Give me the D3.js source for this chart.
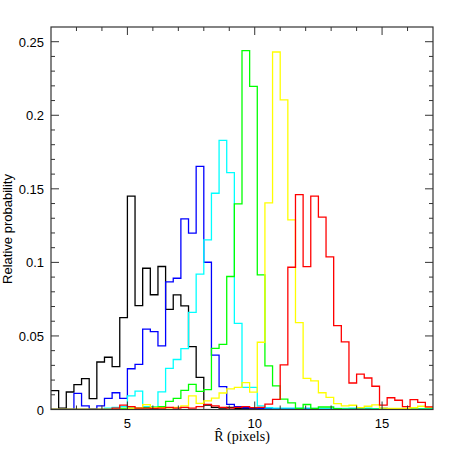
<!DOCTYPE html>
<html>
<head>
<meta charset="utf-8">
<script src="https://cdn.jsdelivr.net/npm/d3@7"></script>
<style>
  body { margin: 0; background: #fff; }
  svg { display: block; }
  .tick-label { font-family: "Liberation Sans", Helvetica, Arial, sans-serif; font-size: 13px; fill: #000; }
</style>
</head>
<body>
<svg id="chart" width="463" height="458"></svg>
<script>
// histogram bins: 50 bins of width 0.3 from R = 2 to 17
var binStart = 2, binWidth = 0.3;

var blackVals = [0.0128, 0.001, 0.0119, 0.0169, 0.021, 0.0074, 0.0323, 0.0355, 0.0291, 0.0625,
  0.145, 0.0706, 0.096, 0.078, 0.0972, 0.068, 0.0779, 0.0704, 0.0427, 0.0219,
  0.003, 0.0015, 0.001, 0.0015, 0.0008, 0.0008, 0.0008, 0.0008, 0.0005, 0.0005,
  0.0005, 0.0005, 0.0005, 0.0005, 0.0005, 0.0005, 0, 0, 0, 0,
  0, 0, 0, 0, 0, 0, 0, 0, 0, 0];

var blueVals = [0, 0, 0, 0.011, 0.0024, 0.0003, 0.0024, 0.0076, 0.0114, 0.0076,
  0.0277, 0.0307, 0.0547, 0.053, 0.0432, 0.0868, 0.0892, 0.1296, 0.1199, 0.1652,
  0.1001, 0.037, 0.0156, 0.0035, 0.0019, 0.0012, 0.001, 0.0008, 0.0005, 0.0005,
  0.0005, 0.0005, 0.0005, 0.0005, 0.0005, 0.0005, 0.0005, 0.0005, 0.0005, 0.0005,
  0.0005, 0.0005, 0.0005, 0.0008, 0, 0, 0, 0, 0, 0];

var cyanVals = [0, 0, 0, 0, 0, 0, 0, 0.001, 0.0015, 0.002,
  0.0093, 0.0125, 0.002, 0.002, 0.012, 0.028, 0.034, 0.0414, 0.066, 0.092,
  0.1153, 0.147, 0.1829, 0.161, 0.0586, 0.015, 0.015, 0.0024, 0.0012, 0.001,
  0.001, 0.001, 0.001, 0.001, 0.0008, 0.0008, 0.0008, 0.0008, 0.0008, 0.001,
  0.0012, 0.001, 0.0005, 0.0005, 0.0005, 0.0005, 0.0005, 0.0005, 0.0005, 0.0005];

var greenVals = [0, 0, 0, 0, 0, 0, 0, 0, 0, 0.0008,
  0.001, 0.001, 0.0012, 0.0015, 0.002, 0.0055, 0.0076, 0.013, 0.0171, 0.0123,
  0.0135, 0.0416, 0.0443, 0.0904, 0.1398, 0.2439, 0.2196, 0.0915, 0.0297, 0.016,
  0.007, 0.0045, 0.0008, 0.0034, 0.0008, 0.0017, 0.0017, 0.0005, 0.0003, 0.0003,
  0.0003, 0.0003, 0.0003, 0.0003, 0.0003, 0.0003, 0.0003, 0.0003, 0.0003, 0.0003];

var yellowVals = [0, 0, 0, 0, 0, 0, 0, 0, 0, 0,
  0.0008, 0.001, 0.0033, 0.0015, 0.0012, 0.0012, 0.0015, 0.0025, 0.0093, 0.0042,
  0.0058, 0.0078, 0.0112, 0.014, 0.015, 0.0183, 0.0118, 0.0457, 0.1405, 0.243,
  0.2105, 0.1289, 0.059, 0.0212, 0.0195, 0.0114, 0.0083, 0.004, 0.0024, 0.0029,
  0.0013, 0.0022, 0.0032, 0.001, 0.0008, 0.0008, 0.0008, 0.0012, 0.0022, 0.0015];

var redVals = [0, 0, 0, 0, 0, 0, 0, 0, 0.001, 0.003,
  0.002, 0.001, 0.001, 0.0008, 0.001, 0.0015, 0.001, 0.0015, 0.001, 0.002,
  0.0035, 0.0025, 0.0015, 0.001, 0.0015, 0.002, 0.0013, 0.0015, 0.0037, 0.0069,
  0.0303, 0.0967, 0.1461, 0.0971, 0.145, 0.1307, 0.1037, 0.057, 0.046, 0.018,
  0.024, 0.0214, 0.0158, 0.003, 0.008, 0.0063, 0.002, 0.0067, 0.0049, 0.0018];

var seriesList = [
  { name: "black", color: "#000000", values: blackVals },
  { name: "blue", color: "#0000ff", values: blueVals },
  { name: "cyan", color: "#00ffff", values: cyanVals },
  { name: "green", color: "#00ff00", values: greenVals },
  { name: "yellow", color: "#ffff00", values: yellowVals },
  { name: "red", color: "#ff0000", values: redVals }
];

var xMajorTicks = [5, 10, 15];
var yMajorTicks = [0, 0.05, 0.1, 0.15, 0.2, 0.25];
var yTickLabels = ["0", "0.05", "0.1", "0.15", "0.2", "0.25"];

var margin = { left: 51, right: 30, top: 27, bottom: 48.5 };
var width = 463 - margin.left - margin.right,
    height = 458 - margin.top - margin.bottom;

var xScale = d3.scaleLinear().domain([2, 17]).range([0, width]);
var yScale = d3.scaleLinear().domain([0, 0.26]).range([height, 0]);

var svg = d3.select("#chart");
var g = svg.append("g").attr("transform", "translate(" + margin.left + "," + margin.top + ")");

g.append("defs").append("clipPath")
    .attr("id", "clip")
    .append("rect")
    .attr("width", width)
    .attr("height", height);

// step outline for a histogram
function stepPoints(values) {
    var pts = [];
    values.forEach(function (v, i) {
        var lo = binStart + i * binWidth;
        pts.push([lo, v]);
        pts.push([lo + binWidth, v]);
    });
    return pts;
}

var line = d3.line()
    .x(function (d) { return xScale(d[0]); })
    .y(function (d) { return yScale(d[1]); });

var plot = g.append("g").attr("clip-path", "url(#clip)");

seriesList.forEach(function (s) {
    plot.append("path")
        .attr("class", "hist " + s.name)
        .attr("d", line(stepPoints(s.values)))
        .attr("fill", "none")
        .attr("stroke", s.color)
        .attr("stroke-width", 1.3)
        .attr("stroke-linejoin", "miter");
});

// frame with inward ticks (all four sides)
var frameColor = "#333";
var xMinor = d3.range(3, 17, 1);
var yMinor = d3.range(0.01, 0.26, 0.01);

function tickLine(x1, y1, x2, y2) {
    g.append("line")
        .attr("x1", x1).attr("y1", y1).attr("x2", x2).attr("y2", y2)
        .attr("stroke", frameColor).attr("stroke-width", 1);
}

xMinor.forEach(function (t) {
    var major = xMajorTicks.indexOf(t) >= 0;
    var len = major ? 8 : 4;
    tickLine(xScale(t), height, xScale(t), height - len);
    tickLine(xScale(t), 0, xScale(t), len);
});

yMinor.forEach(function (t) {
    var major = Math.abs(Math.round(t * 100) % 5) === 0;
    var len = major ? 8 : 4;
    var y = yScale(t);
    tickLine(0, y, len, y);
    tickLine(width, y, width - len, y);
});

g.append("rect")
    .attr("width", width)
    .attr("height", height)
    .attr("fill", "none")
    .attr("stroke", frameColor)
    .attr("stroke-width", 1.2);

// tick labels
g.selectAll(".ylab")
    .data(yMajorTicks).enter()
    .append("text")
    .attr("class", "tick-label")
    .attr("x", -7)
    .attr("y", function (d) { return yScale(d) + 5; })
    .attr("text-anchor", "end")
    .text(function (d, i) { return yTickLabels[i]; });

g.selectAll(".xlab")
    .data(xMajorTicks).enter()
    .append("text")
    .attr("class", "tick-label")
    .attr("x", function (d) { return xScale(d); })
    .attr("y", height + 18)
    .attr("text-anchor", "middle")
    .text(function (d) { return d; });

// axis titles
svg.append("text")
    .attr("x", margin.left + xScale(9.5))
    .attr("y", 441)
    .attr("text-anchor", "middle")
    .style("font-family", "'Liberation Serif', 'Times New Roman', serif")
    .style("font-size", "14px")
    .text("R\u0302 (pixels)");

svg.append("text")
    .attr("transform", "translate(12,229) rotate(-90)")
    .attr("text-anchor", "middle")
    .style("font-family", "'Liberation Sans', Helvetica, Arial, sans-serif")
    .style("font-size", "13px")
    .text("Relative probability");
</script>
</body>
</html>
